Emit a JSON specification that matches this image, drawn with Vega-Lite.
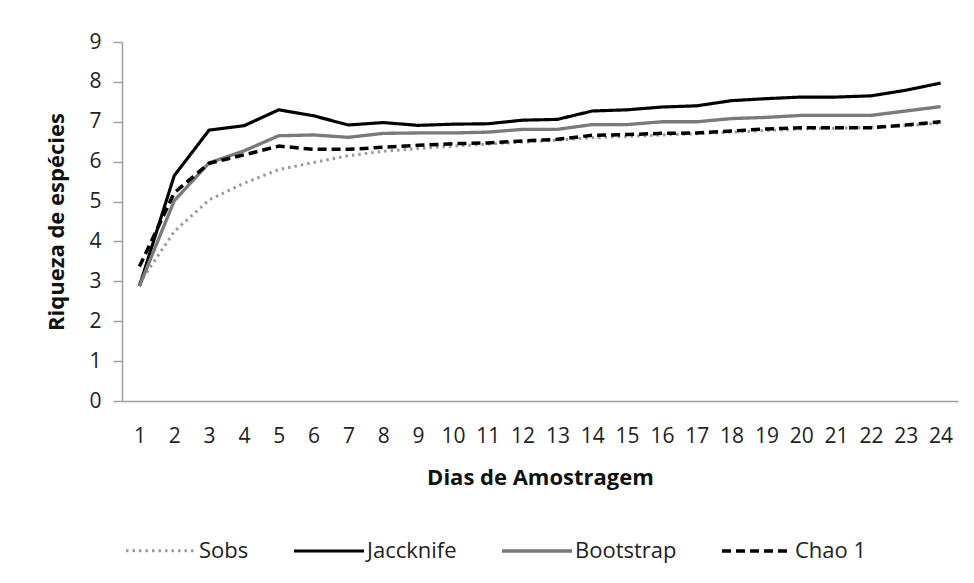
{
  "$schema": "https://vega.github.io/schema/vega-lite/v6.json",
  "width": 836,
  "height": 359,
  "autosize": {"type": "none"},
  "padding": {"left": 122, "top": 42, "right": 16, "bottom": 182},
  "background": "white",
  "config": {
    "view": {"stroke": null},
    "font": "Open Sans"
  },
  "data": {
    "values": [
      {"dia": 1, "serie": "Sobs", "valor": 2.95},
      {"dia": 2, "serie": "Sobs", "valor": 4.25},
      {"dia": 3, "serie": "Sobs", "valor": 5.04},
      {"dia": 4, "serie": "Sobs", "valor": 5.46},
      {"dia": 5, "serie": "Sobs", "valor": 5.8},
      {"dia": 6, "serie": "Sobs", "valor": 5.98},
      {"dia": 7, "serie": "Sobs", "valor": 6.15},
      {"dia": 8, "serie": "Sobs", "valor": 6.26},
      {"dia": 9, "serie": "Sobs", "valor": 6.33},
      {"dia": 10, "serie": "Sobs", "valor": 6.39},
      {"dia": 11, "serie": "Sobs", "valor": 6.44},
      {"dia": 12, "serie": "Sobs", "valor": 6.49},
      {"dia": 13, "serie": "Sobs", "valor": 6.54},
      {"dia": 14, "serie": "Sobs", "valor": 6.6},
      {"dia": 15, "serie": "Sobs", "valor": 6.63},
      {"dia": 16, "serie": "Sobs", "valor": 6.67},
      {"dia": 17, "serie": "Sobs", "valor": 6.7},
      {"dia": 18, "serie": "Sobs", "valor": 6.74},
      {"dia": 19, "serie": "Sobs", "valor": 6.78},
      {"dia": 20, "serie": "Sobs", "valor": 6.82},
      {"dia": 21, "serie": "Sobs", "valor": 6.84},
      {"dia": 22, "serie": "Sobs", "valor": 6.86},
      {"dia": 23, "serie": "Sobs", "valor": 6.9},
      {"dia": 24, "serie": "Sobs", "valor": 6.97},
      {"dia": 1, "serie": "Jaccknife", "valor": 2.88},
      {"dia": 2, "serie": "Jaccknife", "valor": 5.65},
      {"dia": 3, "serie": "Jaccknife", "valor": 6.79},
      {"dia": 4, "serie": "Jaccknife", "valor": 6.9},
      {"dia": 5, "serie": "Jaccknife", "valor": 7.3},
      {"dia": 6, "serie": "Jaccknife", "valor": 7.15},
      {"dia": 7, "serie": "Jaccknife", "valor": 6.92},
      {"dia": 8, "serie": "Jaccknife", "valor": 6.98},
      {"dia": 9, "serie": "Jaccknife", "valor": 6.91},
      {"dia": 10, "serie": "Jaccknife", "valor": 6.94},
      {"dia": 11, "serie": "Jaccknife", "valor": 6.95},
      {"dia": 12, "serie": "Jaccknife", "valor": 7.04},
      {"dia": 13, "serie": "Jaccknife", "valor": 7.06},
      {"dia": 14, "serie": "Jaccknife", "valor": 7.27},
      {"dia": 15, "serie": "Jaccknife", "valor": 7.3},
      {"dia": 16, "serie": "Jaccknife", "valor": 7.37},
      {"dia": 17, "serie": "Jaccknife", "valor": 7.4},
      {"dia": 18, "serie": "Jaccknife", "valor": 7.53},
      {"dia": 19, "serie": "Jaccknife", "valor": 7.58},
      {"dia": 20, "serie": "Jaccknife", "valor": 7.62},
      {"dia": 21, "serie": "Jaccknife", "valor": 7.62},
      {"dia": 22, "serie": "Jaccknife", "valor": 7.65},
      {"dia": 23, "serie": "Jaccknife", "valor": 7.79},
      {"dia": 24, "serie": "Jaccknife", "valor": 7.97},
      {"dia": 1, "serie": "Bootstrap", "valor": 2.88},
      {"dia": 2, "serie": "Bootstrap", "valor": 5.02},
      {"dia": 3, "serie": "Bootstrap", "valor": 5.97},
      {"dia": 4, "serie": "Bootstrap", "valor": 6.27},
      {"dia": 5, "serie": "Bootstrap", "valor": 6.65},
      {"dia": 6, "serie": "Bootstrap", "valor": 6.67},
      {"dia": 7, "serie": "Bootstrap", "valor": 6.61},
      {"dia": 8, "serie": "Bootstrap", "valor": 6.71},
      {"dia": 9, "serie": "Bootstrap", "valor": 6.72},
      {"dia": 10, "serie": "Bootstrap", "valor": 6.72},
      {"dia": 11, "serie": "Bootstrap", "valor": 6.74},
      {"dia": 12, "serie": "Bootstrap", "valor": 6.81},
      {"dia": 13, "serie": "Bootstrap", "valor": 6.81},
      {"dia": 14, "serie": "Bootstrap", "valor": 6.93},
      {"dia": 15, "serie": "Bootstrap", "valor": 6.93},
      {"dia": 16, "serie": "Bootstrap", "valor": 7.0},
      {"dia": 17, "serie": "Bootstrap", "valor": 7.0},
      {"dia": 18, "serie": "Bootstrap", "valor": 7.08},
      {"dia": 19, "serie": "Bootstrap", "valor": 7.11},
      {"dia": 20, "serie": "Bootstrap", "valor": 7.16},
      {"dia": 21, "serie": "Bootstrap", "valor": 7.16},
      {"dia": 22, "serie": "Bootstrap", "valor": 7.16},
      {"dia": 23, "serie": "Bootstrap", "valor": 7.27},
      {"dia": 24, "serie": "Bootstrap", "valor": 7.38},
      {"dia": 1, "serie": "Chao 1", "valor": 3.37},
      {"dia": 2, "serie": "Chao 1", "valor": 5.22},
      {"dia": 3, "serie": "Chao 1", "valor": 5.96},
      {"dia": 4, "serie": "Chao 1", "valor": 6.17},
      {"dia": 5, "serie": "Chao 1", "valor": 6.39},
      {"dia": 6, "serie": "Chao 1", "valor": 6.31},
      {"dia": 7, "serie": "Chao 1", "valor": 6.31},
      {"dia": 8, "serie": "Chao 1", "valor": 6.36},
      {"dia": 9, "serie": "Chao 1", "valor": 6.41},
      {"dia": 10, "serie": "Chao 1", "valor": 6.45},
      {"dia": 11, "serie": "Chao 1", "valor": 6.47},
      {"dia": 12, "serie": "Chao 1", "valor": 6.52},
      {"dia": 13, "serie": "Chao 1", "valor": 6.56},
      {"dia": 14, "serie": "Chao 1", "valor": 6.66},
      {"dia": 15, "serie": "Chao 1", "valor": 6.68},
      {"dia": 16, "serie": "Chao 1", "valor": 6.71},
      {"dia": 17, "serie": "Chao 1", "valor": 6.72},
      {"dia": 18, "serie": "Chao 1", "valor": 6.77},
      {"dia": 19, "serie": "Chao 1", "valor": 6.82},
      {"dia": 20, "serie": "Chao 1", "valor": 6.85},
      {"dia": 21, "serie": "Chao 1", "valor": 6.85},
      {"dia": 22, "serie": "Chao 1", "valor": 6.85},
      {"dia": 23, "serie": "Chao 1", "valor": 6.92},
      {"dia": 24, "serie": "Chao 1", "valor": 7.0}
    ]
  },
  "mark": {"type": "line", "strokeJoin": "round"},
  "encoding": {
    "x": {
      "field": "dia",
      "type": "ordinal",
      "scale": {"type": "point", "padding": 0.5},
      "axis": {
        "title": "Dias de Amostragem",
        "labelAngle": 0,
        "ticks": false,
        "tickSize": 0,
        "domainColor": "#a0a0a0",
        "domainWidth": 1.5,
        "labelFont": "Open Sans",
        "labelFontSize": 21,
        "labelColor": "#222222",
        "labelPadding": 24,
        "titleFont": "Open Sans",
        "titleFontSize": 22,
        "titleFontWeight": "bold",
        "titleColor": "#111111",
        "titlePadding": 21,
        "grid": false
      }
    },
    "y": {
      "field": "valor",
      "type": "quantitative",
      "scale": {"domain": [0, 9], "nice": false},
      "axis": {
        "title": "Riqueza de espécies",
        "values": [0, 1, 2, 3, 4, 5, 6, 7, 8, 9],
        "grid": false,
        "domainColor": "#a0a0a0",
        "domainWidth": 1.5,
        "tickColor": "#a0a0a0",
        "tickWidth": 1.5,
        "tickSize": 9,
        "labelFont": "Open Sans",
        "labelFontSize": 21,
        "labelColor": "#222222",
        "labelPadding": 12,
        "titleFont": "Open Sans",
        "titleFontSize": 22,
        "titleFontWeight": "bold",
        "titleColor": "#111111",
        "titlePadding": 20
      }
    },
    "color": {
      "field": "serie",
      "type": "nominal",
      "scale": {
        "domain": ["Sobs", "Jaccknife", "Bootstrap", "Chao 1"],
        "range": ["#9a9a9a", "#000000", "#7a7a7a", "#000000"]
      },
      "legend": {
        "title": null,
        "orient": "none",
        "legendX": 2,
        "legendY": 472,
        "direction": "horizontal",
        "columns": 4,
        "columnPadding": 38,
        "symbolType": "stroke",
        "symbolSize": 4900,
        "labelOffset": 1,
        "labelFont": "Open Sans",
        "labelFontSize": 22,
        "labelColor": "#222222"
      }
    },
    "strokeDash": {
      "field": "serie",
      "type": "nominal",
      "scale": {
        "domain": ["Sobs", "Jaccknife", "Bootstrap", "Chao 1"],
        "range": [[2.5, 4], [1, 0], [1, 0], [9, 5]]
      }
    },
    "strokeWidth": {
      "field": "serie",
      "type": "nominal",
      "scale": {
        "domain": ["Sobs", "Jaccknife", "Bootstrap", "Chao 1"],
        "range": [3, 3.5, 2, 3.5]
      }
    }
  }
}
